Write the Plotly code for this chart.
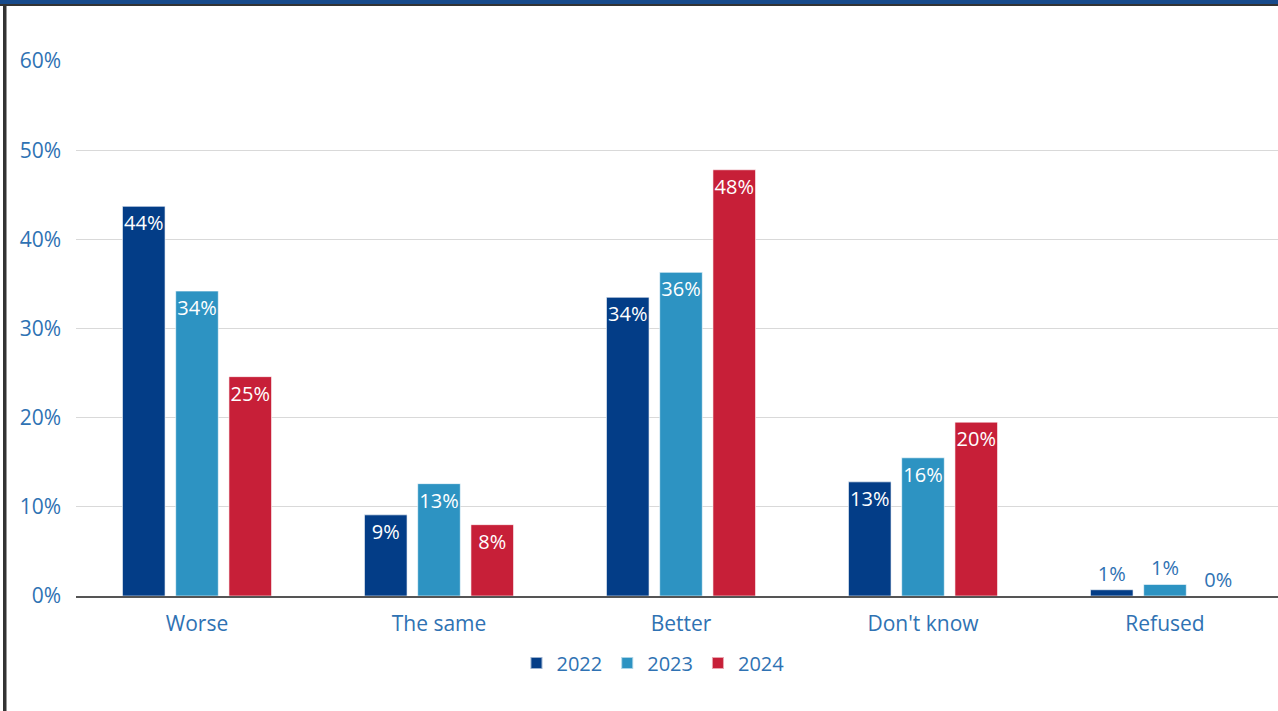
import plotly.graph_objects as go

categories = ["Worse", "The same", "Better", "Don't know", "Refused"]
years = ["2022", "2023", "2024"]
values_2022 = [0.437, 0.091, 0.335, 0.128, 0.007]
values_2023 = [0.342, 0.126, 0.363, 0.155, 0.013]
values_2024 = [0.246, 0.080, 0.478, 0.195, 0.0]
colors = ["#033d87", "#2d93c2", "#c71f38"]
text_blue = "#2f72b3"

W, H = 1278, 711
ML, MR, MT, MB = 76, 0, 61, 115
pw, ph = W - ML - MR, H - MT - MB

def px_x(x):
    return (x - ML) / pw

def px_y(y):
    return (H - MB - y) / ph

FONT = "Open Sans"

fig = go.Figure()
for yr, vals, col in zip(years, [values_2022, values_2023, values_2024], colors):
    positions = ["inside" if v >= 0.03 else "outside" for v in vals]
    fig.add_trace(go.Bar(
        x=categories, y=vals, name=yr,
        marker=dict(color=col, line=dict(color="rgba(255,255,255,0.6)", width=1)),
        text=[f"{round(v*100):.0f}%" for v in vals],
        textposition=positions,
        textangle=0,
        constraintext="none",
        insidetextanchor="end",
        insidetextfont=dict(color="white", size=20, family=FONT),
        outsidetextfont=dict(color=text_blue, size=20, family=FONT),
        cliponaxis=False,
    ))

shapes = [
    dict(type="rect", xref="paper", yref="paper", x0=px_x(-5), x1=px_x(W + 5),
         y0=px_y(4), y1=px_y(-5), fillcolor="#174a8b", line=dict(width=0), layer="above"),
    dict(type="rect", xref="paper", yref="paper", x0=px_x(-5), x1=px_x(W + 5),
         y0=px_y(6), y1=px_y(4), fillcolor="#333333", line=dict(width=0), layer="above"),
    dict(type="rect", xref="paper", yref="paper", x0=px_x(3), x1=px_x(6.5),
         y0=px_y(H + 5), y1=px_y(4), fillcolor="#333333", line=dict(width=0), layer="above"),
]

fig.update_layout(
    width=W, height=H,
    margin=dict(l=ML, r=MR, t=MT, b=MB),
    paper_bgcolor="white", plot_bgcolor="white",
    barmode="group", bargap=0.34, bargroupgap=0.2,
    font=dict(family=FONT, color=text_blue, size=20),
    showlegend=True,
    legend=dict(orientation="h", x=0.48, xanchor="center", y=px_y(663), yanchor="middle",
                font=dict(size=20, color=text_blue), itemwidth=30, traceorder="normal",
                itemsizing="constant"),
    xaxis=dict(range=[-0.5, -0.5 + pw / 242], showgrid=False, showline=True,
               linecolor="#555555", linewidth=1.5, ticks="", tickfont=dict(size=21, color=text_blue),
               ticklabelstandoff=8),
    yaxis=dict(range=[0, 0.6], tickformat=".0%", dtick=0.1, showgrid=True,
               gridcolor="#d9d9d9", gridwidth=1, zeroline=False, showline=False,
               tickfont=dict(size=21, color=text_blue), ticklabelstandoff=14),
    shapes=shapes,
)

fig.write_html("out.html",
               config={"displayModeBar": False},
               post_script="document.body.style.margin='0';document.body.style.padding='0';document.body.style.overflow='hidden';")
